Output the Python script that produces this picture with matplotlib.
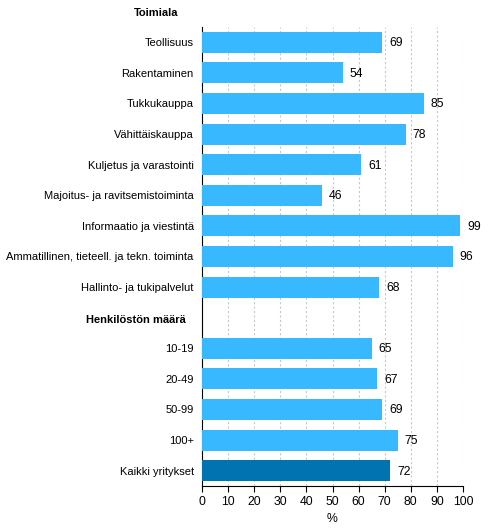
import matplotlib.pyplot as plt

# rows in order, headers have no value
labels = ['Toimiala', 'Teollisuus', 'Rakentaminen', 'Tukkukauppa', 'Vähittäiskauppa',
          'Kuljetus ja varastointi', 'Majoitus- ja ravitsemistoiminta',
          'Informaatio ja viestintä', 'Ammatillinen, tieteell. ja tekn. toiminta',
          'Hallinto- ja tukipalvelut', 'Henkilöstön määrä',
          '10-19', '20-49', '50-99', '100+', 'Kaikki yritykset']
values = [None, 69, 54, 85, 78, 61, 46, 99, 96, 68, None, 65, 67, 69, 75, 72]
total_label = 'Kaikki yritykset'

plt.rcParams['font.family'] = ['Liberation Sans', 'DejaVu Sans']
plt.rcParams['font.size'] = 8

fig = plt.figure(figsize=(4.91, 5.29), dpi=100)
ax = fig.add_axes([0.4114, 0.0813, 0.5316, 0.8677])

light = '#38b9ff'
dark = '#0073b0'

for i, (lab, val) in enumerate(zip(labels, values)):
    if val is None:
        continue
    col = dark if lab == total_label else light
    ax.barh(i, val, height=0.69, color=col, zorder=3)
    ax.text(val + 2.7, i + 0.03, str(val), va='center', ha='left', fontsize=8.8)

ax.set_ylim(15.5, 0.5)
ax.set_xlim(0, 100)
ax.set_xticks(range(0, 101, 10))
ax.set_yticks([i for i, v in enumerate(values) if v is not None])
ax.set_yticklabels([l for l, v in zip(labels, values) if v is not None])
ax.tick_params(axis='y', length=0, pad=6)
ax.tick_params(axis='x', length=4, direction='out', color='black', labelsize=8.8)
ax.xaxis.grid(True, linestyle=(0, (2, 2)), color='#c8c8c8', linewidth=0.8, zorder=0)
ax.set_axisbelow(True)

for s in ['top', 'right']:
    ax.spines[s].set_visible(False)

# section headers
ax.text(-17.6, labels.index('Toimiala') + 0.05, 'Toimiala', fontweight='bold',
        ha='center', va='center', clip_on=False)
ax.text(-25.3, labels.index('Henkilöstön määrä') + 0.08, 'Henkilöstön määrä',
        fontweight='bold', ha='center', va='center', clip_on=False)

ax.set_xlabel('%', labelpad=3, fontsize=8.8)

fig.savefig('out.png', dpi=100)
